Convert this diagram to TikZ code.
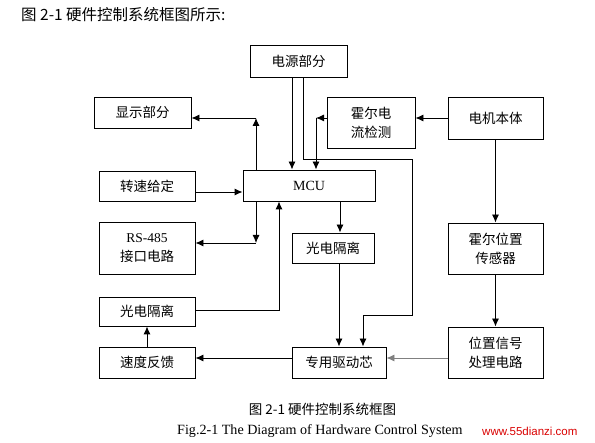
\documentclass[tikz,border=0pt]{standalone}
\usepackage{fontspec}
\setmainfont{Liberation Serif}
\newfontfamily\cjk{Noto Sans CJK SC}
\newfontfamily\arial{Liberation Sans}
\usetikzlibrary{arrows.meta}

\begin{document}
\begin{tikzpicture}[x=1pt, y=-1pt,
    box/.style={draw, line width=0.9pt, inner sep=0pt, align=center, font=\cjk\fontsize{13.5}{19}\selectfont},
    arr/.style={line width=0.9pt, -{Latex[length=8pt, width=7pt]}}]
    \useasboundingbox (0,0) rectangle (595,443);

    % Draw nodes
    \node[box, minimum width=97pt, minimum height=32pt] (power) at (298.5,61) {电源部分};
    \node[box, minimum width=97pt, minimum height=31pt] (disp) at (142.5,112.5) {显示部分};
    \node[box, minimum width=88pt, minimum height=51pt] (hallc) at (371,122.5) {霍尔电\\流检测};
    \node[box, minimum width=95pt, minimum height=42pt] (motor) at (495.5,118) {电机本体};
    \node[box, minimum width=132pt, minimum height=31pt, font=\fontsize{14}{16}\selectfont] (mcu) at (309,185.5) {MCU};
    \node[box, minimum width=96pt, minimum height=30pt] (speedset) at (147,186) {转速给定};
    \node[box, minimum width=96pt, minimum height=52pt] (rs485) at (147,248) {{\rmfamily RS-485}\\接口电路};
    \node[box, minimum width=82pt, minimum height=30pt] (iso1) at (333,248) {光电隔离};
    \node[box, minimum width=95pt, minimum height=51pt] (hallp) at (495.5,248.5) {霍尔位置\\传感器};
    \node[box, minimum width=96pt, minimum height=29pt] (iso2) at (147,311.5) {光电隔离};
    \node[box, minimum width=96pt, minimum height=31pt] (fb) at (147,362.5) {速度反馈};
    \node[box, minimum width=94pt, minimum height=31pt] (drv) at (339,362.5) {专用驱动芯};
    \node[box, minimum width=95pt, minimum height=51pt] (pos) at (495.5,352.5) {位置信号\\处理电路};

    % Corners
    \coordinate (c1) at (412,159);
    \coordinate (c2) at (412,315);
    \coordinate (c3) at (316,118);
    \coordinate (c4) at (256,243);
    \coordinate (c5) at (256,118);

    % Draw connections
    \draw[arr] ([xshift=-17pt]mcu.north |- power.south) -- ([xshift=-17pt]mcu.north);
    \draw[arr] ([xshift=4.5pt]power.south) |- (c1) -- (c2) -| ([xshift=24pt]drv.north);
    \draw[arr] ([yshift=4.5pt]hallc.west) -- (c3);
    \draw[arr] (c3) -- ([xshift=7pt]mcu.north);
    \draw[arr] (motor.west) -- (motor.west -| hallc.east);
    \draw[arr] (motor) -- (hallp);
    \draw[arr] (hallp) -- (pos);
    \draw[arr, gray] ([yshift=4.5pt]drv.west -| pos.west) -- ([yshift=4.5pt]drv.east);
    \draw[arr] ([yshift=4.5pt]drv.west) -- ([yshift=4.5pt]drv.west -| fb.east);
    \draw[arr] (fb) -- (iso2);
    \draw[arr] ([yshift=1.5pt]iso2.east) -| ([xshift=-30pt]mcu.south);
    \draw[arr] ([xshift=31pt]mcu.south) -- ([xshift=31pt]mcu.south |- iso1.north);
    \draw[arr] ([xshift=6pt]iso1.south) -- ([xshift=6pt]iso1.south |- drv.north);
    \draw[arr] ([xshift=-53pt]mcu.south) -- (c4);
    \draw[arr] (c4) -- (c4 -| rs485.east);
    \draw[arr] ([xshift=-53pt]mcu.north) -- (c5);
    \draw[arr] (c5) -- (c5 -| disp.east);
    \draw[arr] ([yshift=-6pt]speedset.east) -- ([yshift=-6pt]speedset.east -| mcu.west);

    % Labels
    \node[anchor=west, inner sep=0pt, font=\cjk\fontsize{15.5}{18}\selectfont] (title) at (21,15) {图 2-1 硬件控制系统框图所示:};
    \node[inner sep=0pt, font=\cjk\fontsize{13.5}{16}\selectfont] (cap) at (322.5,409) {图 2-1 硬件控制系统框图};
    \node[anchor=west, inner sep=0pt, font=\fontsize{14.1}{16}\selectfont] (capen) at (177,431) {Fig.2-1 The Diagram of Hardware Control System};
    \node[anchor=west, inner sep=0pt, text=red!85!black, font=\arial\fontsize{11.5}{14}\selectfont] (web) at (482,431) {www.55dianzi.com};
\end{tikzpicture}
\end{document}
